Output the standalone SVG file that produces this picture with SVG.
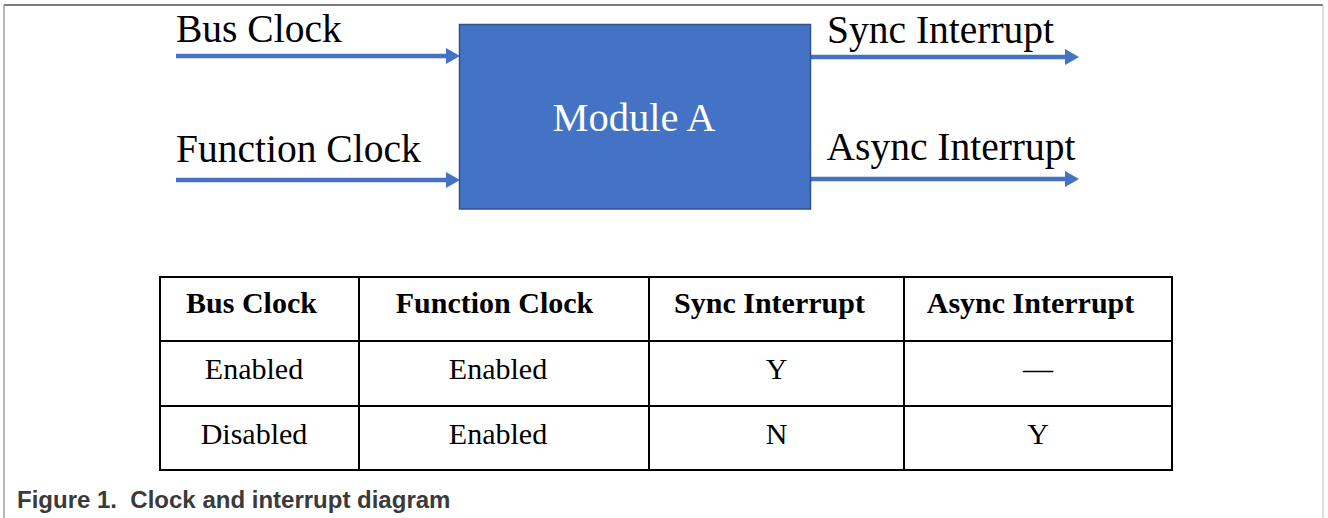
<svg xmlns="http://www.w3.org/2000/svg" width="1328" height="518" viewBox="0 0 1328 518">
<style>
.lbl{font-family:"Liberation Serif","Times New Roman",serif;font-size:39.5px;fill:#000}
.mod{font-family:"Liberation Serif","Times New Roman",serif;font-size:40.5px;fill:#fff}
.th{font-family:"Liberation Serif","Times New Roman",serif;font-size:30px;font-weight:bold;fill:#000;text-anchor:middle}
.td{font-family:"Liberation Serif","Times New Roman",serif;font-size:30px;fill:#000;text-anchor:middle}
.wire{stroke:#4472C4;stroke-width:4.5;fill:none;marker-end:url(#ah)}
.grid{stroke:#000;stroke-width:2;fill:none}
.cap{font-family:"Liberation Sans",Arial,sans-serif;font-size:24px;font-weight:bold;fill:#3a3a3a}
</style>
<defs>
<marker id="ah" markerUnits="userSpaceOnUse" markerWidth="14" markerHeight="16" viewBox="0 0 14 16" refX="4" refY="8" orient="auto">
<path d="M0,0 L14,8 L0,16 z" fill="#4472C4"/>
</marker>
</defs>
<rect x="0" y="0" width="1328" height="518" fill="#fff"/>
<line x1="4" y1="5" x2="1323" y2="5" stroke="#505050" stroke-width="1.5"/>
<line x1="4" y1="5" x2="4" y2="518" stroke="#a0a0a0" stroke-width="1.5"/>
<line x1="1323" y1="5" x2="1323" y2="518" stroke="#d0d0d0" stroke-width="1.5"/>

<g id="connectors">
<path class="wire" d="M176,56 L450,56"/>
<path class="wire" d="M176,180 L450,180"/>
<path class="wire" d="M811,57 L1069,57"/>
<path class="wire" d="M811,179 L1069,179"/>
</g>

<g id="module-a">
<rect x="459.5" y="24.5" width="351" height="184.5" fill="#4472C4" stroke="#2F528F" stroke-width="1.5"/>
<text class="mod" x="634" y="131" text-anchor="middle">Module A</text>
</g>
<g id="bus-clock"><text class="lbl" x="176" y="42">Bus Clock</text></g>
<g id="function-clock"><text class="lbl" x="176" y="161.5">Function Clock</text></g>
<g id="sync-interrupt"><text class="lbl" x="827" y="42.5">Sync Interrupt</text></g>
<g id="async-interrupt"><text class="lbl" x="826.5" y="160">Async Interrupt</text></g>

<g id="table">
<rect class="grid" x="160" y="277" width="1012" height="193"/>
<line class="grid" x1="160" y1="341" x2="1172" y2="341"/>
<line class="grid" x1="160" y1="406" x2="1172" y2="406"/>
<line class="grid" x1="359" y1="277" x2="359" y2="470"/>
<line class="grid" x1="649" y1="277" x2="649" y2="470"/>
<line class="grid" x1="904" y1="277" x2="904" y2="470"/>
<text class="th" x="251.5" y="313">Bus Clock</text>
<text class="th" x="494.5" y="313">Function Clock</text>
<text class="th" x="769.5" y="313">Sync Interrupt</text>
<text class="th" x="1030.5" y="313">Async Interrupt</text>
<text class="td" x="254" y="379">Enabled</text>
<text class="td" x="498" y="379">Enabled</text>
<text class="td" x="776.5" y="379">Y</text>
<text class="td" x="1038" y="379">—</text>
<text class="td" x="254" y="444">Disabled</text>
<text class="td" x="498" y="444">Enabled</text>
<text class="td" x="776.5" y="444">N</text>
<text class="td" x="1038" y="444">Y</text>
</g>

<text class="cap" x="17" y="508" xml:space="preserve">Figure 1.  Clock and interrupt diagram</text>
</svg>
